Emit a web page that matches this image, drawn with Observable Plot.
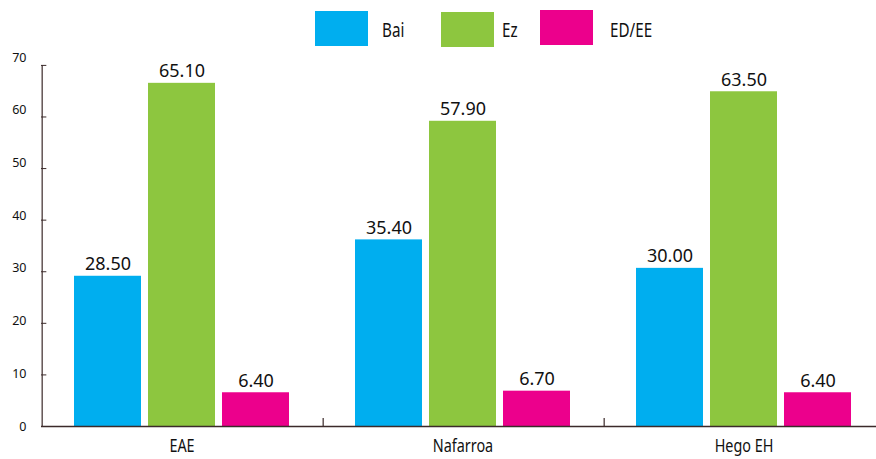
<!DOCTYPE html>
<html><head><meta charset="utf-8">
<script src="https://cdn.jsdelivr.net/npm/d3@7"></script>
<script src="https://cdn.jsdelivr.net/npm/@observablehq/plot@0.6"></script>
<style>
body{margin:0;font-family:"Noto Sans",sans-serif;overflow:hidden;background:#fff}
#legend{position:relative;height:48px;width:876px}
.sw{position:absolute;width:53px;height:35px}
.lb{position:absolute;font-size:19px;color:#111;line-height:24px;transform:scaleX(0.8);transform-origin:0 50%;white-space:nowrap}
</style></head><body>
<div id="legend"></div><div id="chart"></div>
<script>
const categories = ["EAE", "Nafarroa", "Hego EH"];
const series = ["Bai", "Ez", "ED/EE"];
const bai = [28.5, 35.4, 30.0];
const ez = [65.1, 57.9, 63.5];
const edee = [6.4, 6.7, 6.4];
const yTicks = [0, 10, 20, 30, 40, 50, 60, 70];
const colors = ["#00AEEF", "#8DC63F", "#EC008C"];

const rows = categories.flatMap((c, i) => [
  {cat: c, s: series[0], v: bai[i]},
  {cat: c, s: series[1], v: ez[i]},
  {cat: c, s: series[2], v: edee[i]}
]);

// legend
const lg = document.getElementById("legend");
const swLeft = [315, 441, 540], swTop = [11, 12, 10], lbLeft = [382, 502, 610];
series.forEach((s, i) => {
  const sw = document.createElement("div");
  sw.className = "sw"; sw.style.left = swLeft[i] + "px"; sw.style.top = swTop[i] + "px"; sw.style.background = colors[i];
  lg.appendChild(sw);
  const lb = document.createElement("div");
  lb.className = "lb"; lb.style.left = lbLeft[i] + "px"; lb.style.top = "18px"; lb.textContent = s;
  lg.appendChild(lb);
});

const x0 = 40, x1 = 885;
const bw = (x1 - x0) / categories.length;
const pIn = 7 / 75, pOut = 0.4245;
const step = bw / (series.length - pIn + 2 * pOut);
const band = step * (1 - pIn);
const edgeDx = -(pOut * step + band / 2);
const tickShrink = 0.9786; // the original's tick marks sit slightly off the label grid
const edges = categories.map((c, i) => ({cat: c, top: i === 0 ? 70 * tickShrink : 1.5}));
const tickRows = yTicks.slice(1).map(t => ({cat: categories[0], v: t * tickShrink}));
const labelRows = yTicks.map(t => ({cat: categories[0], v: t}));
const axisColor = "#3b2a2a";

const chart = Plot.plot({
  width: 876, height: 411,
  marginTop: 9, marginBottom: 33, marginLeft: 40, marginRight: 0,
  style: {fontFamily: "Noto Sans", fontSize: "12px", color: "#111", background: "white", overflow: "hidden"},
  fx: {domain: categories, range: [x0, x1], padding: 0, label: null, axis: null},
  x: {domain: series, paddingInner: pIn, paddingOuter: pOut, axis: null},
  y: {domain: [0, 70], axis: null},
  color: {domain: series, range: colors},
  marks: [
    Plot.barY(rows, {fx: "cat", x: "s", y: "v", fill: "s"}),
    Plot.ruleY([0], {stroke: axisColor, strokeWidth: 1.6}),
    Plot.ruleX(edges, {fx: "cat", x: () => series[0], y1: 0, y2: "top", dx: edgeDx, stroke: axisColor, strokeWidth: 1.2}),
    Plot.ruleY(tickRows, {fx: "cat", y: "v", insetRight: bw - 6, stroke: axisColor, strokeWidth: 1}),
    Plot.text(labelRows, {fx: "cat", y: "v", text: d => String(d.v), frameAnchor: "left", dx: -15, textAnchor: "end", fontSize: 12.5, fill: "#111"}),
    Plot.axisFx({anchor: "bottom", tickSize: 0, tickPadding: 13, label: null, fontSize: 18, fill: "#111"}),
    Plot.text(rows, {fx: "cat", x: "s", y: "v", text: d => d.v.toFixed(2), dy: -6, lineAnchor: "bottom", fontSize: 18, fill: "#111"})
  ]
});
// condensed look for the category labels
chart.querySelectorAll('g[aria-label="fx-axis tick label"] text').forEach(el => {
  const t = el.getAttribute("transform") || "";
  const x = +el.getAttribute("x") || 0;
  if (x) el.setAttribute("x", x / 0.8);
  el.setAttribute("transform", (t + " scale(0.8,1)").trim());
});
document.getElementById("chart").appendChild(chart);
</script>
</body></html>
